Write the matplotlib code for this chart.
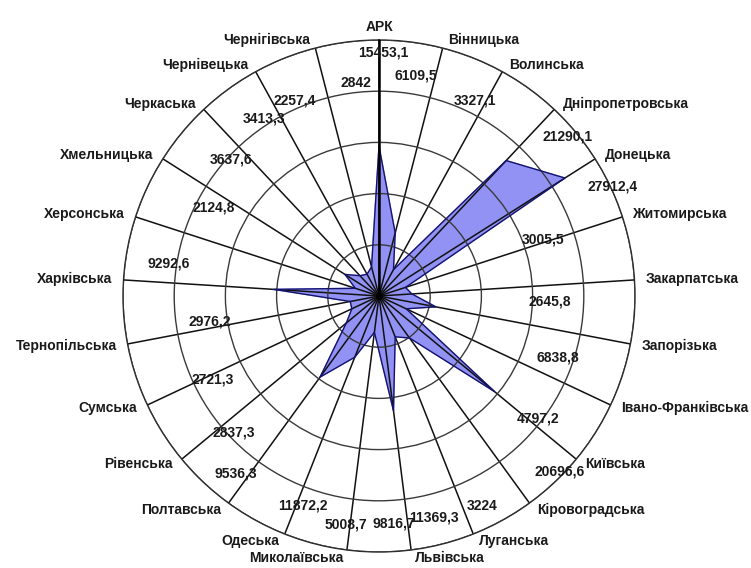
import numpy as np
import matplotlib
matplotlib.use("Agg")
import matplotlib.pyplot as plt

# ---------------- data ----------------
categories = ["АРК", "Вінницька", "Волинська", "Дніпропетровська", "Донецька",
              "Житомирська", "Закарпатська", "Запорізька", "Івано-Франківська",
              "Київська", "Кіровоградська", "Луганська", "Львівська",
              "Миколаївська", "Одеська", "Полтавська", "Рівенська", "Сумська",
              "Тернопільська", "Харківська", "Херсонська", "Хмельницька",
              "Черкаська", "Чернівецька", "Чернігівська"]

# values printed as data labels
label_values = ["15453,1", "6109,5", "3327,1", "21290,1", "27912,4", "3005,5",
                "2645,8", "6838,8", "4797,2", "20696,6", "3224", "11369,3",
                "9816,7", "5008,7", "11872,2", "9536,3", "2837,3", "2721,3",
                "2976,2", "9292,6", "2124,8", "3637,6", "3413,3", "2257,4", "2842"]

# values of the plotted polygon (axis 0..35000)
plot_values = [20500, 8900, 4100, 25400, 30100, 3800, 4500, 7900, 4100,
               20500, 7100, 6000, 15800, 5000, 9000, 13700, 5800, 4100,
               4000, 14400, 3400, 5500, 3800, 3400, 4100]

axis_max = 35000
ring_step = 7000

# data-label placement (polar: degrees clockwise from top, fraction of radius)
label_theta = [0.9, 9.5, 26.1, 49.9, 65.0, 71.1, 91.7, 109.1, 127.5, 134.2,
               153.9, 166.0, 176.2, 188.2, 199.9, 218.9, 226.8, 243.2, 261.3,
               278.9, 298.1, 312.6, 327.1, 336.6, 353.8]
label_rfrac = [0.953, 0.875, 0.852, 0.965, 1.008, 0.677, 0.668, 0.740, 0.783,
               0.986, 0.914, 0.890, 0.889, 0.900, 0.872, 0.889, 0.777, 0.727,
               0.668, 0.830, 0.730, 0.785, 0.828, 0.834, 0.837]

# ---------------- figure ----------------
plt.rcParams['font.family'] = ['Liberation Sans', 'DejaVu Sans']
W, H = 751, 568
fig = plt.figure(figsize=(W / 100, H / 100), dpi=100)
cx, cy, R = 379, 296, 256
ax = fig.add_axes([(cx - R) / W, (H - cy - R) / H, 2 * R / W, 2 * R / H],
                  projection='polar')
ax.set_theta_zero_location('N')
ax.set_theta_direction(-1)

n = len(categories)
angles = np.arange(n) * 2 * np.pi / n
ang_c = np.concatenate([angles, angles[:1]])
vals = np.array(plot_values, dtype=float)
vals_c = np.concatenate([vals, vals[:1]])

ax.fill(ang_c, vals_c, color='#9292F4', zorder=1)
ax.plot(ang_c, vals_c, color='#14146E', lw=1.0, zorder=3)

ax.set_ylim(0, axis_max)
ax.set_yticks(np.arange(ring_step, axis_max + 1, ring_step))
ax.set_yticklabels([])
ax.set_xticks(angles)
ax.set_xticklabels([])
ax.set_axisbelow(False)
ax.yaxis.grid(True, color='#3a3a3a', lw=1.0)
ax.xaxis.grid(True, color='#111111', lw=1.1)
ax.spines['polar'].set_color('#222222')
ax.spines['polar'].set_linewidth(1.0)
ax.tick_params(length=0, pad=0)
# value axis along first spoke
ax.plot([0, 0], [0, axis_max], color='black', lw=1.8, zorder=4)
ax.plot([0], [0], 'o', color='black', ms=4, zorder=5)

# category labels at the spoke ends
for a, name in zip(angles, categories):
    s, c = np.sin(a), np.cos(a)
    if abs(s) < 0.05:
        ha = 'center'
        va = 'bottom' if c > 0 else 'top'
        dx, dy = 0, 6 * np.sign(c)
    else:
        ha = 'left' if s > 0 else 'right'
        va = 'center'
        dx = np.sign(s) * (3 + 8 * abs(s))
        dy = 8 * c
    ax.annotate(name, xy=(a, axis_max), xytext=(dx, dy),
                textcoords='offset pixels', ha=ha, va=va,
                fontsize=10, fontweight='bold', color='#1a1a1a',
                annotation_clip=False)

# data labels
for t, rf, txt in zip(label_theta, label_rfrac, label_values):
    ax.text(np.deg2rad(t), rf * axis_max, txt, ha='center', va='center',
            fontsize=10, fontweight='bold', color='#1a1a1a', zorder=6)

fig.savefig('out.png', dpi=100)
